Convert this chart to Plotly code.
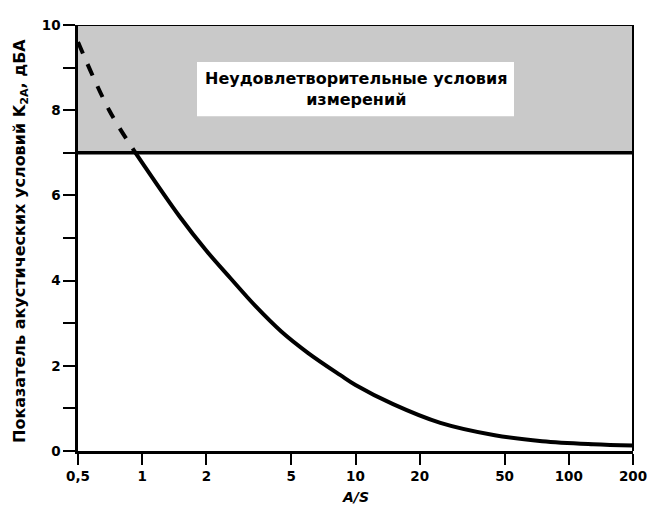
import plotly.graph_objects as go

# Data
a_over_s = [0.5, 0.7, 0.93, 1.5, 2, 2.6, 3.4, 4.5, 6, 8.5, 10, 15, 25, 45, 75, 130, 200]
k2a = [9.6, 8.0, 7.0, 5.5, 4.7, 4.05, 3.4, 2.8, 2.3, 1.78, 1.55, 1.1, 0.66, 0.37, 0.23, 0.16, 0.13]

x_ticks = [0.5, 1, 2, 5, 10, 20, 50, 100, 200]
x_tick_labels = ["0,5", "1", "2", "5", "10", "20", "50", "100", "200"]
y_ticks = list(range(0, 11))
y_tick_labels = ["0", "", "2", "", "4", "", "6", "", "8", "", "10"]

limit = 7
dash_end = 0.93

x_dash = [x for x in a_over_s if x <= dash_end]
y_dash = [y for x, y in zip(a_over_s, k2a) if x <= dash_end]
x_solid = [x for x in a_over_s if x >= dash_end]
y_solid = [y for x, y in zip(a_over_s, k2a) if x >= dash_end]

FONT = "DejaVu Sans, Liberation Sans, Arial, sans-serif"

fig = go.Figure()

# unsatisfactory zone
fig.add_shape(type="rect", xref="paper", yref="y", x0=0, x1=1, y0=limit, y1=10,
              fillcolor="#c9c9c9", line=dict(width=0), layer="below")
fig.add_shape(type="rect", xref="paper", yref="y", x0=0.2144, x1=0.7856, y0=7.86, y1=9.13,
              fillcolor="white", line=dict(width=0), layer="below")
fig.add_shape(type="line", xref="paper", yref="y", x0=0, x1=1, y0=limit, y1=limit,
              line=dict(color="black", width=3.5))
fig.add_shape(type="line", xref="paper", yref="y", x0=0, x1=1, y0=10, y1=10,
              line=dict(color="black", width=2))
fig.add_shape(type="line", xref="paper", yref="paper", x0=1, x1=1, y0=0, y1=1,
              line=dict(color="black", width=2))

fig.add_trace(go.Scatter(x=x_dash, y=y_dash, mode="lines",
                         line=dict(color="black", width=4, dash="dash", shape="spline"),
                         showlegend=False, hoverinfo="skip"))
fig.add_trace(go.Scatter(x=x_solid, y=y_solid, mode="lines",
                         line=dict(color="black", width=4, shape="spline", smoothing=1.0),
                         showlegend=False, hoverinfo="skip"))

fig.add_annotation(x=0.5, y=8.5, xref="paper", yref="y",
                   text="<b>Неудовлетворительные условия<br>измерений</b>",
                   showarrow=False,
                   font=dict(family=FONT, size=16, color="black"))

# axis titles
fig.add_annotation(x=0, y=0.5, xref="paper", yref="paper", xshift=-58, yshift=-3,
                   text="<b>Показатель акустических условий K<sub>2A</sub>, дБА</b>",
                   textangle=-90, showarrow=False, xanchor="center", yanchor="middle",
                   font=dict(family=FONT, size=16, color="black"))
fig.add_annotation(x=0.5, y=0, xref="paper", yref="paper", yshift=-46,
                   text="<b><i>A/S</i></b>", showarrow=False,
                   xanchor="center", yanchor="middle",
                   font=dict(family=FONT, size=14, color="black"))

fig.update_layout(
    width=650, height=509,
    margin=dict(l=78, r=17, t=25, b=58),
    paper_bgcolor="white", plot_bgcolor="white",
    font=dict(family=FONT, color="black"),
    xaxis=dict(type="log", range=[-0.3011, 2.3011], automargin=False,
               tickvals=x_ticks, ticktext=["<b>%s</b>" % t for t in x_tick_labels],
               ticks="outside", ticklen=11, tickwidth=2, tickcolor="black",
               showline=True, linecolor="black", linewidth=2.5,
               showgrid=False, zeroline=False,
               tickfont=dict(size=13.5, family=FONT)),
    yaxis=dict(range=[0, 10], automargin=False,
               tickvals=y_ticks, ticktext=["<b>%s</b>" % t for t in y_tick_labels],
               ticks="outside", ticklen=12, tickwidth=2, tickcolor="black",
               showline=True, linecolor="black", linewidth=2.5,
               showgrid=False, zeroline=False,
               tickfont=dict(size=13.5, family=FONT)),
)

fig.write_html("out.html", config={"displayModeBar": False},
               post_script="document.body.style.margin='0px';document.body.style.overflow='hidden';")
